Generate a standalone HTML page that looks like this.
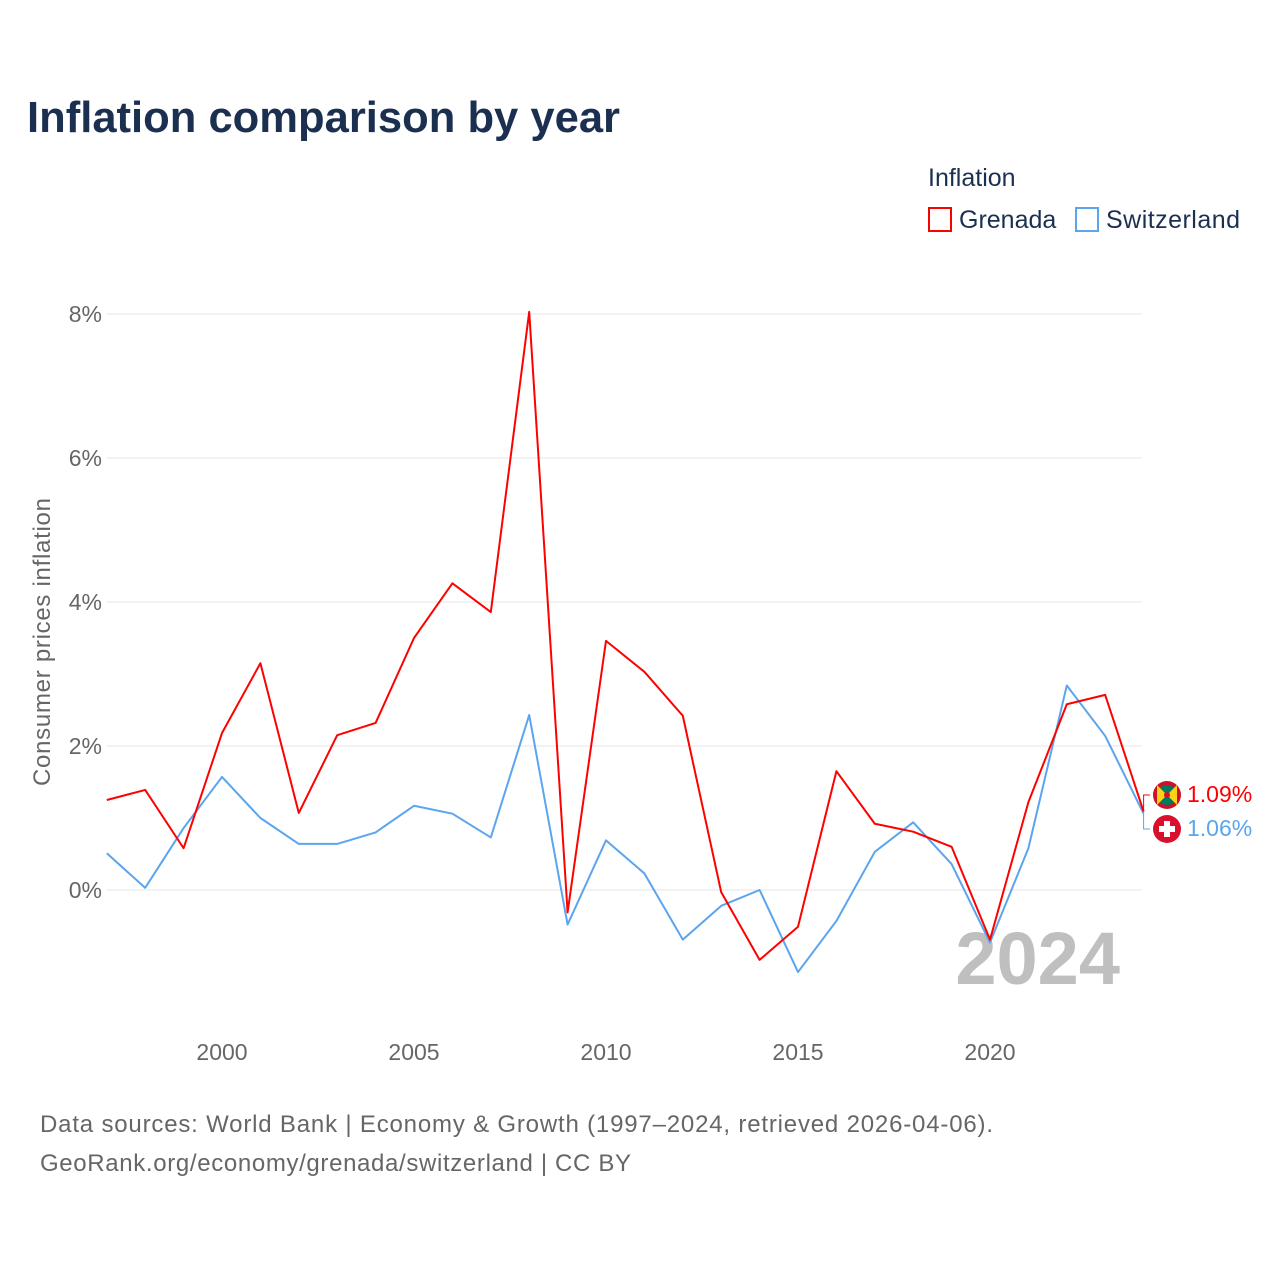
<!DOCTYPE html>
<html><head><meta charset="utf-8"><style>
html,body{margin:0;padding:0;background:#fff;}
body{width:1280px;height:1280px;position:relative;font-family:"Liberation Sans",sans-serif;overflow:hidden;}
</style></head><body>
<svg width="1280" height="1280" id="chart" style="position:absolute;left:0;top:0">
<text x="27" y="132" font-size="44" font-weight="bold" fill="#1b3050" textLength="593" lengthAdjust="spacingAndGlyphs">Inflation comparison by year</text>
<text x="928" y="186" font-size="25" fill="#1b3050">Inflation</text>
<g><rect x="929" y="208" width="22" height="23" fill="none" stroke="#ff0000" stroke-width="2"/><text x="959" y="228" font-size="25" fill="#1b3050">Grenada</text></g>
<g><rect x="1076" y="208" width="22" height="23" fill="none" stroke="#5aa5ee" stroke-width="2"/><text x="1106" y="228" font-size="25" fill="#1b3050" textLength="134">Switzerland</text></g>
<text transform="translate(50,642) rotate(-90)" text-anchor="middle" font-size="24" fill="#666" textLength="288">Consumer prices inflation</text>
<g id="grid"></g><g id="ticks"></g>
<text x="1120" y="984" text-anchor="end" font-size="74" font-weight="bold" fill="#bfbfbf">2024</text>
<g id="series"></g>
<text x="40" y="1132" font-size="24" fill="#666" textLength="953">Data sources: World Bank | Economy &amp; Growth (1997–2024, retrieved 2026-04-06).</text>
<text x="40" y="1171" font-size="24" fill="#666" textLength="591">GeoRank.org/economy/grenada/switzerland | CC BY</text>
</svg>
<script>
const years=[1997,1998,1999,2000,2001,2002,2003,2004,2005,2006,2007,2008,2009,2010,2011,2012,2013,2014,2015,2016,2017,2018,2019,2020,2021,2022,2023,2024];
const grenada=[1.25,1.39,0.58,2.18,3.15,1.07,2.15,2.32,3.5,4.26,3.86,8.03,-0.31,3.46,3.03,2.42,-0.03,-0.97,-0.51,1.65,0.92,0.81,0.6,-0.69,1.22,2.58,2.71,1.09];
const switzerland=[0.51,0.03,0.86,1.57,1.0,0.64,0.64,0.8,1.17,1.06,0.73,2.43,-0.48,0.69,0.23,-0.69,-0.22,0.0,-1.14,-0.43,0.53,0.94,0.36,-0.73,0.58,2.84,2.14,1.06];
const yTicks=[0,2,4,6,8];
const xTicks=[2000,2005,2010,2015,2020];
const NS="http://www.w3.org/2000/svg";
const X=y=>106.8+(y-1997)*38.4;
const Y=v=>890-v*72;
function mk(tag,attrs,parent){const e=document.createElementNS(NS,tag);for(const k in attrs)e.setAttribute(k,attrs[k]);parent.appendChild(e);return e;}
const grid=document.getElementById('grid'),ticks=document.getElementById('ticks'),series=document.getElementById('series');
yTicks.forEach(t=>{
 const l=mk('line',{x1:107,x2:1142,y1:Y(t),y2:Y(t),stroke:'#e6e6e6','stroke-width':1},grid);
 
 
 const tx=mk('text',{x:102,y:Y(t)+8,'text-anchor':'end','font-size':23,fill:'#666'},ticks);
 tx.textContent=t+'%';
 
 
});
xTicks.forEach(t=>{
 const tx=mk('text',{x:X(t),y:1060,'text-anchor':'middle','font-size':23,fill:'#666'},ticks);
 tx.textContent=t;
 
 
});
function line(vals,color,name){
 const p=mk('polyline',{points:vals.map((v,i)=>X(years[i])+','+Y(v)).join(' '),fill:'none',stroke:color,'stroke-width':2,'stroke-linejoin':'round'},series);
 
 
}
line(switzerland,'#5aa5ee','switzerland-line');
line(grenada,'#ff0000','grenada-line');
const gl=grenada[grenada.length-1],sl=switzerland[switzerland.length-1];
const ex=X(2024);
mk('polyline',{points:`${ex},${Y(gl)} ${ex},795 1150,795`,fill:'none',stroke:'#ff0000','stroke-width':1},series);
mk('polyline',{points:`${ex},${Y(sl)} ${ex},829 1150,829`,fill:'none',stroke:'#5aa5ee','stroke-width':1},series);
const f1=mk('g',{},series);


mk('circle',{cx:1167,cy:795,r:14,fill:'#ce1126'},f1);
mk('circle',{cx:1167,cy:795,r:10,fill:'#007a5e'},f1);
mk('polygon',{points:'1157,785 1177,805 1177,785 1157,805',fill:'#fcd116'},f1);
mk('circle',{cx:1167,cy:795,r:3,fill:'#ce1126'},f1);
const f2=mk('g',{},series);


mk('circle',{cx:1167,cy:829,r:14,fill:'#da0f2e'},f2);
mk('rect',{x:1164,y:821,width:6,height:16,fill:'#fff'},f2);
mk('rect',{x:1159,y:826,width:16,height:6,fill:'#fff'},f2);
const t1=mk('text',{x:1187,y:802,'font-size':23,fill:'#ff0000'},series);
t1.textContent=gl.toFixed(2)+'%';


const t2=mk('text',{x:1187,y:836,'font-size':23,fill:'#5aa5ee'},series);
t2.textContent=sl.toFixed(2)+'%';


</script>
</body></html>
